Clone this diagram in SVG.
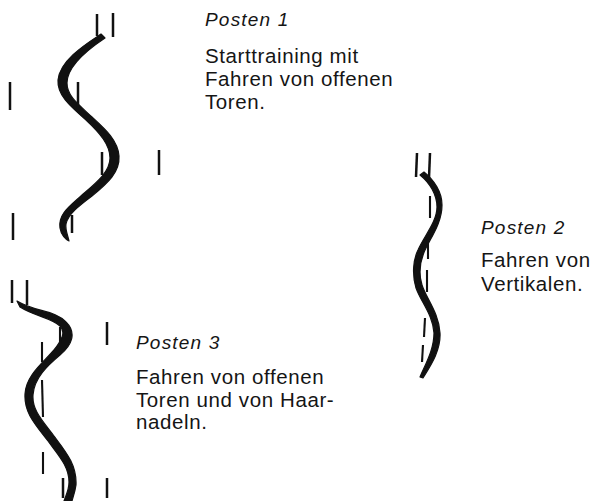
<svg xmlns="http://www.w3.org/2000/svg" width="593" height="501" viewBox="0 0 593 501">
  <style>
    .ribbon { fill: #111; stroke: #111; stroke-width: 1.2; stroke-linejoin: round; }
    .pole { stroke: #111; stroke-width: 2.5; stroke-linecap: butt; fill: none; }
    .dash { stroke: #111; stroke-width: 2.1; stroke-linecap: butt; fill: none; }
    .head { font-family: "Liberation Sans", Arial, sans-serif; font-style: italic; font-size: 19px; letter-spacing: 1.2px; fill: #151515; }
    .body { font-family: "Liberation Sans", Arial, sans-serif; font-size: 20.5px; letter-spacing: 0.6px; fill: #151515; }
  </style>
  <rect width="593" height="501" fill="#ffffff"/>

  <!-- Station 1: open gates -->
  <g id="posten1">
    <path class="ribbon" d="M101,34 C86,44 60,60 58,80 C57,95 70,106 86,120 C100,133 110,145 110,158 C110,172 96,183 82,195 C70,206 58,214 60,228 C61,235 66,240 69,241 C68,236 65,230 66,224 C68,214 80,205 92,196 C108,183 120,172 119,156 C118,140 104,128 92,117 C78,104 67,96 67,83 C67,66 90,48 105,38 Z"/>
    <line class="pole" x1="97" y1="14" x2="97" y2="36"/>
    <line class="pole" x1="113" y1="13" x2="113" y2="37"/>
    <line class="pole" x1="10" y1="82" x2="10" y2="110"/>
    <line class="pole" x1="78" y1="82" x2="78" y2="108"/>
    <line class="pole" x1="102" y1="152" x2="102" y2="175"/>
    <line class="pole" x1="159" y1="150" x2="159" y2="175"/>
    <line class="pole" x1="13" y1="213" x2="13" y2="240"/>
    <line class="pole" x1="72" y1="215" x2="72" y2="233"/>
    <text class="head" x="205" y="26">Posten 1</text>
    <text class="body" x="205" y="63">Starttraining mit</text>
    <text class="body" x="205" y="86">Fahren von offenen</text>
    <text class="body" x="205" y="109">Toren.</text>
  </g>

  <!-- Station 2: verticals -->
  <g id="posten2">
    <path class="ribbon" d="M420,175 C430,183 437,195 437,207 C437,222 424,236 418,250 C413,260 412,275 416,288 C421,302 433,315 434,333 C434,350 425,365 420,377 L423,378 C431,365 441,350 440,333 C439,313 426,298 422,285 C418,272 421,258 426,248 C432,236 442,222 442,205 C442,192 434,180 424,172 Z"/>
    <line class="pole" x1="417" y1="153" x2="416" y2="177"/>
    <line class="pole" x1="430" y1="153" x2="429" y2="178"/>
    <line class="dash" x1="430" y1="196" x2="430" y2="218"/>
    <line class="dash" x1="428" y1="238" x2="428" y2="259"/>
    <line class="dash" x1="427" y1="270" x2="427" y2="292"/>
    <line class="dash" x1="425" y1="318" x2="424" y2="337"/>
    <line class="dash" x1="423" y1="345" x2="422" y2="362"/>
    <text class="head" x="481" y="234">Posten 2</text>
    <text class="body" x="481" y="267">Fahren von</text>
    <text class="body" x="481" y="291">Vertikalen.</text>
  </g>

  <!-- Station 3: open gates and hairpins -->
  <g id="posten3">
    <path class="ribbon" d="M17,301 C35,312 55,310 66,322 C77,333 72,345 60,355 C48,365 34,378 33,395 C32,410 42,420 54,436 C66,452 77,465 76,485 C75,492 73,497 72,501 L64,501 C66,495 69,490 69,482 C69,466 58,455 48,441 C34,423 24,412 25,394 C26,375 44,362 54,350 C62,340 66,332 60,326 C52,318 34,316 20,307 Z"/>
    <line class="pole" x1="12" y1="280" x2="12" y2="303"/>
    <line class="pole" x1="27" y1="280" x2="27" y2="305"/>
    <line class="pole" x1="107" y1="322" x2="107" y2="345"/>
    <line class="dash" x1="60" y1="327" x2="60" y2="343"/>
    <line class="dash" x1="42" y1="342" x2="42" y2="362"/>
    <line class="dash" x1="42" y1="380" x2="43" y2="417"/>
    <line class="dash" x1="43" y1="452" x2="43" y2="474"/>
    <line class="pole" x1="63" y1="478" x2="63" y2="498"/>
    <line class="pole" x1="107" y1="478" x2="107" y2="498"/>
    <text class="head" x="136" y="349">Posten 3</text>
    <text class="body" x="136" y="384">Fahren von offenen</text>
    <text class="body" x="136" y="407">Toren und von Haar-</text>
    <text class="body" x="136" y="429">nadeln.</text>
  </g>
</svg>
